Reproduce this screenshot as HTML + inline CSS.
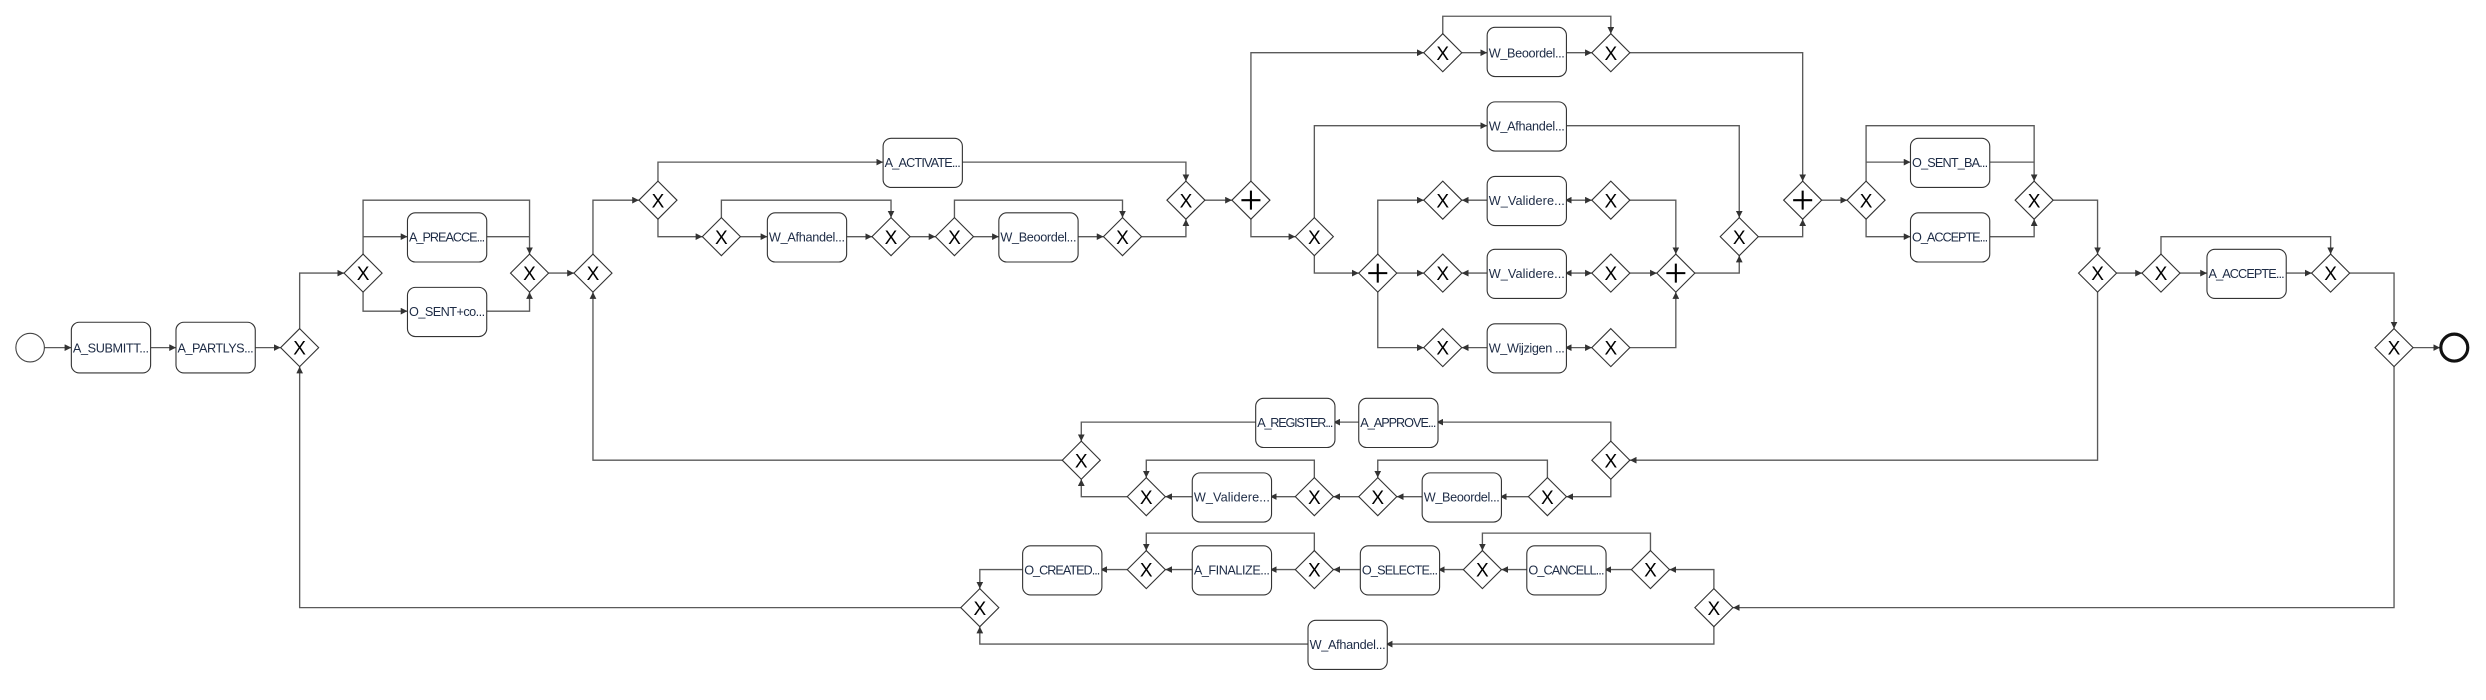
<!DOCTYPE html>
<html><head><meta charset="utf-8"><style>
html,body{margin:0;padding:0;background:#fff;}
svg{display:block;}
.e{fill:none;stroke:#5a5a5a;stroke-width:0.85;}
.b{fill:#fff;stroke:#333;stroke-width:0.7;}
.g{fill:#fff;stroke:#333;stroke-width:0.7;}
.t{font-family:"Liberation Sans",sans-serif;font-size:8px;fill:#1d2b45;}
.x{font-family:"Liberation Sans",sans-serif;font-size:12px;fill:#000;text-anchor:middle;}
</style></head><body>
<svg width="2486" height="700" viewBox="0 0 1568 441" xmlns="http://www.w3.org/2000/svg">
<defs>
<marker id="a" viewBox="0 0 10 10" refX="10" refY="5" markerWidth="5" markerHeight="5" orient="auto"><path d="M0,0 L10,5 L0,10z" fill="#333"/></marker>
<marker id="s" viewBox="0 0 10 10" refX="0" refY="5" markerWidth="5" markerHeight="5" orient="auto"><path d="M10,0 L0,5 L10,10z" fill="#333"/></marker>
</defs>
<g class="e" marker-end="url(#a)">
<path d="M28,219H45"/><path d="M95,219H111"/><path d="M160,219H177"/>
<path d="M189,207V172H217"/>
<path d="M229,160V126H334V160"/><path d="M229,149H257"/><path d="M307,149H334" marker-end="none"/>
<path d="M229,184V196H257"/><path d="M307,196H334V184"/>
<path d="M346,172H362"/>
<path d="M670,290H374V184"/>
<path d="M374,160V126H403"/>
<path d="M415,114V102H557"/><path d="M607,102H748V114"/>
<path d="M415,138V149H443"/>
<path d="M455,137V126H562V137"/>
<path d="M467,149H484"/><path d="M533,149H550"/><path d="M574,149H590"/>
<path d="M602,137V126H708V137"/>
<path d="M614,149H630"/><path d="M680,149H696"/><path d="M720,149H748V138"/><path d="M760,126H777"/>
<path d="M789,114V33H898"/><path d="M789,138V149H817"/>
<path d="M910,21V10H1016V21"/><path d="M922,33H938"/><path d="M987,33H1004"/><path d="M1028,33H1137V114"/>
<path d="M829,137V79H938"/><path d="M987,79H1097V137"/>
<path d="M829,161V172H857"/>
<path d="M869,160V126H898"/><path d="M881,172H898"/><path d="M869,184V219H898"/>
<path d="M938,126H922"/><path d="M938,172H922"/><path d="M938,219H922"/>
<path d="M987,126H1004" marker-start="url(#s)"/><path d="M987,172H1004" marker-start="url(#s)"/><path d="M987,219H1004" marker-start="url(#s)"/>
<path d="M1028,126H1057V160"/><path d="M1028,172H1045"/><path d="M1028,219H1057V184"/>
<path d="M1069,172H1097V161"/><path d="M1109,149H1137V138"/><path d="M1149,126H1165"/>
<path d="M1177,114V79H1283V114"/><path d="M1177,102H1205"/><path d="M1255,102H1283" marker-end="none"/>
<path d="M1177,138V149H1205"/><path d="M1255,149H1283V138"/>
<path d="M1295,126H1323V160"/><path d="M1335,172H1351"/>
<path d="M1363,160V149H1470V160"/><path d="M1375,172H1392"/><path d="M1441,172H1458"/>
<path d="M1482,172H1510V207"/><path d="M1522,219H1539"/>
<path d="M1323,184V290H1028"/>
<path d="M1016,278V266H906"/><path d="M857,266H841"/><path d="M792,266H682V278"/>
<path d="M1016,302V313H988"/><path d="M964,313H946"/><path d="M897,313H881"/>
<path d="M976,301V290H869V301"/><path d="M857,313H841"/><path d="M817,313H801"/><path d="M752,313H735"/>
<path d="M829,301V290H723V301"/><path d="M711,313H682V302"/>
<path d="M1510,231V383H1093"/>
<path d="M1081,371V359H1053"/><path d="M1029,359H1012"/><path d="M963,359H947"/>
<path d="M1041,347V336H935V347"/><path d="M923,359H907"/><path d="M858,359H841"/><path d="M817,359H801"/><path d="M752,359H735"/>
<path d="M829,347V336H723V347"/><path d="M711,359H694"/><path d="M645,359H618V371"/>
<path d="M1081,395V406H874"/><path d="M825,406H618V395"/>
<path d="M606,383H189V231"/>
</g>
<circle cx="19" cy="219" r="9" fill="#fff" stroke="#444" stroke-width="0.7"/>
<circle cx="1548" cy="219" r="8.5" fill="#fff" stroke="#111" stroke-width="2"/>
<g class="b">
<rect x="45" y="203" width="50" height="32" rx="5"/><rect x="111" y="203" width="50" height="32" rx="5"/>
<rect x="257" y="134" width="50" height="31" rx="5"/><rect x="257" y="181" width="50" height="31" rx="5"/>
<rect x="557" y="87" width="50" height="31" rx="5"/><rect x="484" y="134" width="50" height="31" rx="5"/><rect x="630" y="134" width="50" height="31" rx="5"/>
<rect x="938" y="17" width="50" height="31" rx="5"/><rect x="938" y="64" width="50" height="31" rx="5"/>
<rect x="938" y="111" width="50" height="31" rx="5"/><rect x="938" y="157" width="50" height="31" rx="5"/><rect x="938" y="204" width="50" height="31" rx="5"/>
<rect x="1205" y="87" width="50" height="31" rx="5"/><rect x="1205" y="134" width="50" height="31" rx="5"/><rect x="1392" y="157" width="50" height="31" rx="5"/>
<rect x="792" y="251" width="50" height="31" rx="5"/><rect x="857" y="251" width="50" height="31" rx="5"/>
<rect x="897" y="298" width="50" height="31" rx="5"/><rect x="752" y="298" width="50" height="31" rx="5"/>
<rect x="963" y="344" width="50" height="31" rx="5"/><rect x="858" y="344" width="50" height="31" rx="5"/><rect x="752" y="344" width="50" height="31" rx="5"/><rect x="645" y="344" width="50" height="31" rx="5"/>
<rect x="825" y="391" width="50" height="31" rx="5"/>
</g>
<g class="t" lengthAdjust="spacingAndGlyphs">
<text x="46" y="222" textLength="48">A_SUBMITT...</text><text x="112" y="222" textLength="48">A_PARTLYS...</text>
<text x="258" y="152" textLength="48">A_PREACCE...</text><text x="258" y="199" textLength="48">O_SENT+co...</text>
<text x="558" y="105" textLength="48">A_ACTIVATE...</text><text x="485" y="152" textLength="48">W_Afhandel...</text><text x="631" y="152" textLength="48">W_Beoordel...</text>
<text x="939" y="36" textLength="48">W_Beoordel...</text><text x="939" y="82" textLength="48">W_Afhandel...</text>
<text x="939" y="129" textLength="48">W_Validere...</text><text x="939" y="175" textLength="48">W_Validere...</text><text x="939" y="222" textLength="48">W_Wijzigen ...</text>
<text x="1206" y="105" textLength="48">O_SENT_BA...</text><text x="1206" y="152" textLength="48">O_ACCEPTE...</text><text x="1393" y="175" textLength="48">A_ACCEPTE...</text>
<text x="793" y="269" textLength="48">A_REGISTER...</text><text x="858" y="269" textLength="48">A_APPROVE...</text>
<text x="898" y="316" textLength="48">W_Beoordel...</text><text x="753" y="316" textLength="48">W_Validere...</text>
<text x="964" y="362" textLength="48">O_CANCELL...</text><text x="859" y="362" textLength="48">O_SELECTE...</text><text x="753" y="362" textLength="48">A_FINALIZE...</text><text x="646" y="362" textLength="48">O_CREATED...</text>
<text x="826" y="409" textLength="48">W_Afhandel...</text>
</g>
<g id="gw">
<!-- exclusive gateways -->
</g>
<g class="g">
<path d="M189,207l12,12l-12,12l-12,-12z"/><path d="M229,160l12,12l-12,12l-12,-12z"/><path d="M334,160l12,12l-12,12l-12,-12z"/><path d="M374,160l12,12l-12,12l-12,-12z"/>
<path d="M415,114l12,12l-12,12l-12,-12z"/><path d="M455,137l12,12l-12,12l-12,-12z"/><path d="M562,137l12,12l-12,12l-12,-12z"/><path d="M602,137l12,12l-12,12l-12,-12z"/><path d="M708,137l12,12l-12,12l-12,-12z"/><path d="M748,114l12,12l-12,12l-12,-12z"/>
<path d="M789,114l12,12l-12,12l-12,-12z"/><path d="M910,21l12,12l-12,12l-12,-12z"/><path d="M1016,21l12,12l-12,12l-12,-12z"/><path d="M829,137l12,12l-12,12l-12,-12z"/>
<path d="M869,160l12,12l-12,12l-12,-12z"/><path d="M910,114l12,12l-12,12l-12,-12z"/><path d="M910,160l12,12l-12,12l-12,-12z"/><path d="M910,207l12,12l-12,12l-12,-12z"/>
<path d="M1016,114l12,12l-12,12l-12,-12z"/><path d="M1016,160l12,12l-12,12l-12,-12z"/><path d="M1016,207l12,12l-12,12l-12,-12z"/><path d="M1057,160l12,12l-12,12l-12,-12z"/>
<path d="M1097,137l12,12l-12,12l-12,-12z"/><path d="M1137,114l12,12l-12,12l-12,-12z"/><path d="M1177,114l12,12l-12,12l-12,-12z"/><path d="M1283,114l12,12l-12,12l-12,-12z"/>
<path d="M1323,160l12,12l-12,12l-12,-12z"/><path d="M1363,160l12,12l-12,12l-12,-12z"/><path d="M1470,160l12,12l-12,12l-12,-12z"/><path d="M1510,207l12,12l-12,12l-12,-12z"/>
<path d="M1016,278l12,12l-12,12l-12,-12z"/><path d="M682,278l12,12l-12,12l-12,-12z"/>
<path d="M976,301l12,12l-12,12l-12,-12z"/><path d="M869,301l12,12l-12,12l-12,-12z"/><path d="M829,301l12,12l-12,12l-12,-12z"/><path d="M723,301l12,12l-12,12l-12,-12z"/>
<path d="M1081,371l12,12l-12,12l-12,-12z"/><path d="M1041,347l12,12l-12,12l-12,-12z"/><path d="M935,347l12,12l-12,12l-12,-12z"/><path d="M829,347l12,12l-12,12l-12,-12z"/><path d="M723,347l12,12l-12,12l-12,-12z"/><path d="M618,371l12,12l-12,12l-12,-12z"/>
</g>
<g class="x">
<text x="189" y="223.5">X</text><text x="229" y="176.5">X</text><text x="334" y="176.5">X</text><text x="374" y="176.5">X</text>
<text x="415" y="130.5">X</text><text x="455" y="153.5">X</text><text x="562" y="153.5">X</text><text x="602" y="153.5">X</text><text x="708" y="153.5">X</text><text x="748" y="130.5">X</text>
<text x="910" y="37.5">X</text><text x="1016" y="37.5">X</text><text x="829" y="153.5">X</text>
<text x="910" y="130.5">X</text><text x="910" y="176.5">X</text><text x="910" y="223.5">X</text>
<text x="1016" y="130.5">X</text><text x="1016" y="176.5">X</text><text x="1016" y="223.5">X</text>
<text x="1097" y="153.5">X</text><text x="1177" y="130.5">X</text><text x="1283" y="130.5">X</text>
<text x="1323" y="176.5">X</text><text x="1363" y="176.5">X</text><text x="1470" y="176.5">X</text><text x="1510" y="223.5">X</text>
<text x="1016" y="294.5">X</text><text x="682" y="294.5">X</text>
<text x="976" y="317.5">X</text><text x="869" y="317.5">X</text><text x="829" y="317.5">X</text><text x="723" y="317.5">X</text>
<text x="1081" y="387.5">X</text><text x="1041" y="363.5">X</text><text x="935" y="363.5">X</text><text x="829" y="363.5">X</text><text x="723" y="363.5">X</text><text x="618" y="387.5">X</text>
</g>
<g stroke="#000" stroke-width="1.3">
<path d="M783,126h12M789,120v12"/><path d="M863,172h12M869,166v12"/><path d="M1051,172h12M1057,166v12"/><path d="M1131,126h12M1137,120v12"/>
</g>
</svg>
</body></html>
